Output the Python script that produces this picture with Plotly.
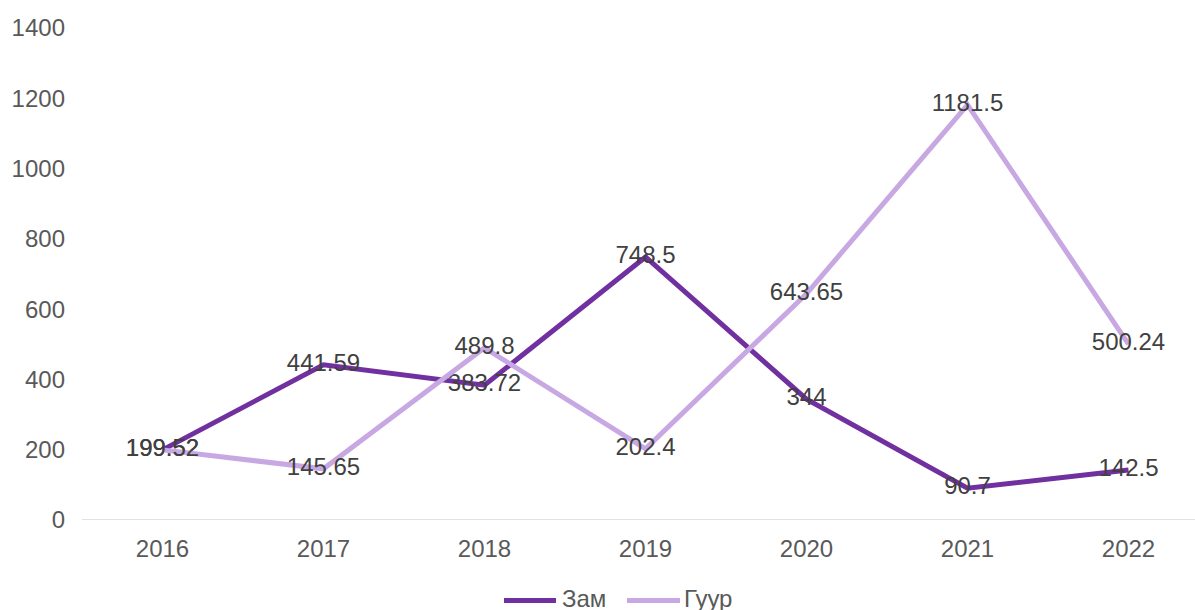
import plotly.graph_objects as go

years = ["2016", "2017", "2018", "2019", "2020", "2021", "2022"]
zam = [199.52, 441.59, 383.72, 748.5, 344, 90.7, 142.5]
guur = [199.52, 145.65, 489.8, 202.4, 643.65, 1181.5, 500.24]
zam_labels = ["199.52", "441.59", "383.72", "748.5", "344", "90.7", "142.5"]
guur_labels = ["199.52", "145.65", "489.8", "202.4", "643.65", "1181.5", "500.24"]
series_names = ["Зам", "Гуур"]
series_colors = ["#7030A0", "#C8A8E2"]

font = "Liberation Sans, Arial, sans-serif"
W, H = 1195, 610
L, R, T, B = 82, 0, 27.5, 90
pw, ph = W - L - R, H - T - B

def px_x(p):
    return (p - L) / pw

def px_y(p):
    return (H - B - p) / ph

fig = go.Figure()
for name, vals, labels, color in [(series_names[0], zam, zam_labels, series_colors[0]),
                                  (series_names[1], guur, guur_labels, series_colors[1])]:
    fig.add_trace(go.Scatter(
        x=years, y=vals, name=name, mode="lines+text",
        line=dict(color=color, width=5),
        text=labels, textposition="middle center",
        textfont=dict(family=font, size=24, color="#404040"),
        showlegend=False, cliponaxis=False,
    ))

# custom legend (line symbols + labels) at bottom
shapes = [dict(type="line", xref="paper", yref="y", x0=0, x1=1, y0=0, y1=0,
               line=dict(color="#D9D9D9", width=1.5), layer="below")]
annotations = []
leg = [(504, 556, 560), (627, 680, 682)]
for (x0, x1, tx), name, color in zip(leg, series_names, series_colors):
    shapes.append(dict(type="line", xref="paper", yref="paper",
                       x0=px_x(x0), x1=px_x(x1), y0=px_y(600.5), y1=px_y(600.5),
                       line=dict(color=color, width=5)))
    annotations.append(dict(xref="paper", yref="paper", x=px_x(tx), y=px_y(599),
                            xanchor="left", yanchor="middle", showarrow=False,
                            text=name, font=dict(family=font, size=24, color="#595959")))

fig.update_layout(
    width=W, height=H,
    margin=dict(l=L, r=R, t=T, b=B),
    paper_bgcolor="white", plot_bgcolor="white",
    font=dict(family=font, size=24, color="#595959"),
    showlegend=False,
    xaxis=dict(type="category", range=[-0.5, 6.413], showgrid=False,
               showline=False, zeroline=False, ticks="", automargin=False,
               ticklabelstandoff=12,
               tickfont=dict(family=font, size=24, color="#595959")),
    yaxis=dict(range=[0, 1400], dtick=200, showgrid=False, zeroline=False,
               showline=False, ticks="", tickformat="d", automargin=False,
               ticklabelstandoff=16,
               tickfont=dict(family=font, size=24, color="#595959")),
    shapes=shapes,
    annotations=annotations,
)

fig.write_html("out.html", config={"displayModeBar": False},
               post_script="document.body.style.margin='0';document.body.style.overflow='hidden';")
